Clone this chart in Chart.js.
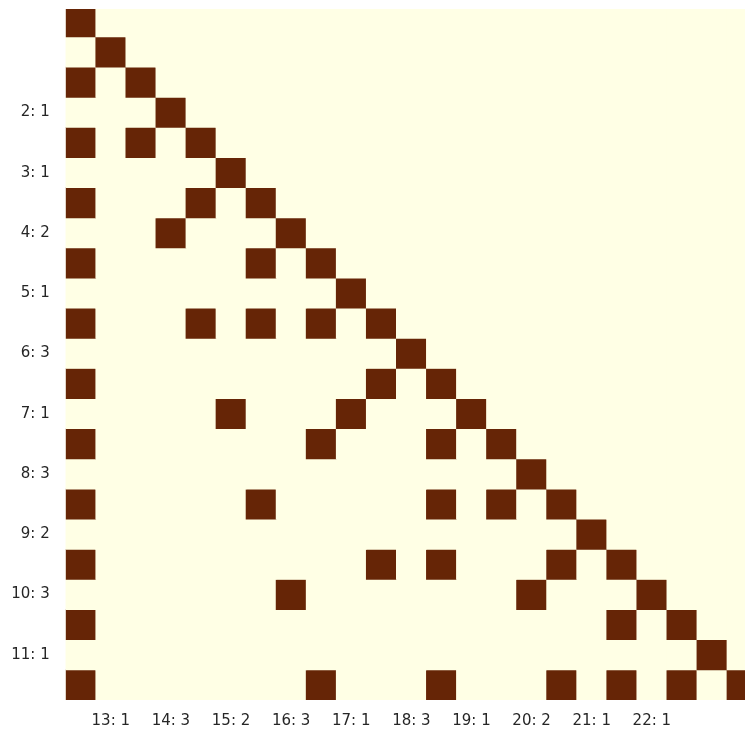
<!DOCTYPE html>
<html>
<head>
<meta charset="utf-8">
<script src="https://cdn.jsdelivr.net/npm/chart.js@4.4.1/dist/chart.umd.min.js"></script>
<style>
  html, body { margin: 0; padding: 0; background: #fff; overflow: hidden; }
  #wrap { width: 745px; height: 730px; }
</style>
</head>
<body>
<div id="wrap"><canvas id="chart" width="745" height="730"></canvas></div>
<script>
// grid is 23 x 23, row index top to bottom, column index left to right
const rowIndex = [0,1,2,3,4,5,6,7,8,9,10,11,12,13,14,15,16,17,18,19,20,21,22];
const colIndex = [0,1,2,3,4,5,6,7,8,9,10,11,12,13,14,15,16,17,18,19,20,21,22];

// columns that are filled (value 1) in each row, everything else is 0
const filledCols = [
  [0],
  [1],
  [0, 2],
  [3],
  [0, 2, 4],
  [5],
  [0, 4, 6],
  [3, 7],
  [0, 6, 8],
  [9],
  [0, 4, 6, 8, 10],
  [11],
  [0, 10, 12],
  [5, 9, 13],
  [0, 8, 12, 14],
  [15],
  [0, 6, 12, 14, 16],
  [17],
  [0, 10, 12, 16, 18],
  [7, 15, 19],
  [0, 18, 20],
  [21],
  [0, 8, 12, 16, 18, 20, 22]
];

const yTickRows = [3, 5, 7, 9, 11, 13, 15, 17, 19, 21];
const yTickLabels = ['2: 1', '3: 1', '4: 2', '5: 1', '6: 3', '7: 1', '8: 3', '9: 2', '10: 3', '11: 1'];
const xTickCols = [1, 3, 5, 7, 9, 11, 13, 15, 17, 19];
const xTickLabels = ['13: 1', '14: 3', '15: 2', '16: 3', '17: 1', '18: 3', '19: 1', '20: 2', '21: 1', '22: 1'];

const lowColor = '#ffffe5';
const highColor = '#662506';

const datasets = rowIndex.map((r) => ({
  label: 'row ' + r,
  data: colIndex.map((c) => ({
    x: c,
    y: [r - 0.5, r + 0.5],
    v: filledCols[r].includes(c) ? 1 : 0
  })),
  backgroundColor: (ctx) => (ctx.raw && ctx.raw.v ? highColor : lowColor),
  borderWidth: 0,
  grouped: false,
  barPercentage: 1,
  categoryPercentage: 1
}));

const areaBg = {
  id: 'areaBg',
  beforeDatasetsDraw(chart) {
    const { ctx, chartArea: a } = chart;
    ctx.save();
    ctx.fillStyle = lowColor;
    ctx.fillRect(a.left, a.top, a.right - a.left, a.bottom - a.top);
    ctx.restore();
  }
};

const tickFont = { family: 'DejaVu Sans', size: 15 };

new Chart(document.getElementById('chart'), {
  type: 'bar',
  data: { datasets },
  options: {
    responsive: false,
    animation: false,
    layout: { padding: { top: 9, left: 0, right: 0, bottom: 0 } },
    plugins: {
      legend: { display: false },
      tooltip: { enabled: false }
    },
    scales: {
      x: {
        type: 'linear',
        offset: false,
        min: -0.5,
        max: 22.1,
        grid: { display: false, drawTicks: false },
        border: { display: false },
        afterBuildTicks: (scale) => { scale.ticks = xTickCols.map((v) => ({ value: v })); },
        afterFit: (scale) => {
          scale.height = 30;
          scale.paddingLeft = 0;
          scale.paddingRight = 0;
        },
        ticks: {
          autoSkip: false,
          maxRotation: 0,
          padding: 12,
          color: '#262626',
          font: tickFont,
          callback: (v) => xTickLabels[xTickCols.indexOf(v)]
        }
      },
      y: {
        type: 'linear',
        reverse: true,
        min: -0.43,
        max: 22.5,
        grid: { display: false, drawTicks: false },
        border: { display: false },
        afterBuildTicks: (scale) => { scale.ticks = yTickRows.map((v) => ({ value: v })); },
        afterFit: (scale) => {
          scale.width = 65.7;
          scale.paddingTop = 0;
          scale.paddingBottom = 0;
        },
        ticks: {
          autoSkip: false,
          padding: 16,
          color: '#262626',
          font: tickFont,
          callback: (v) => yTickLabels[yTickRows.indexOf(v)]
        }
      }
    }
  },
  plugins: [areaBg]
});
</script>
</body>
</html>
